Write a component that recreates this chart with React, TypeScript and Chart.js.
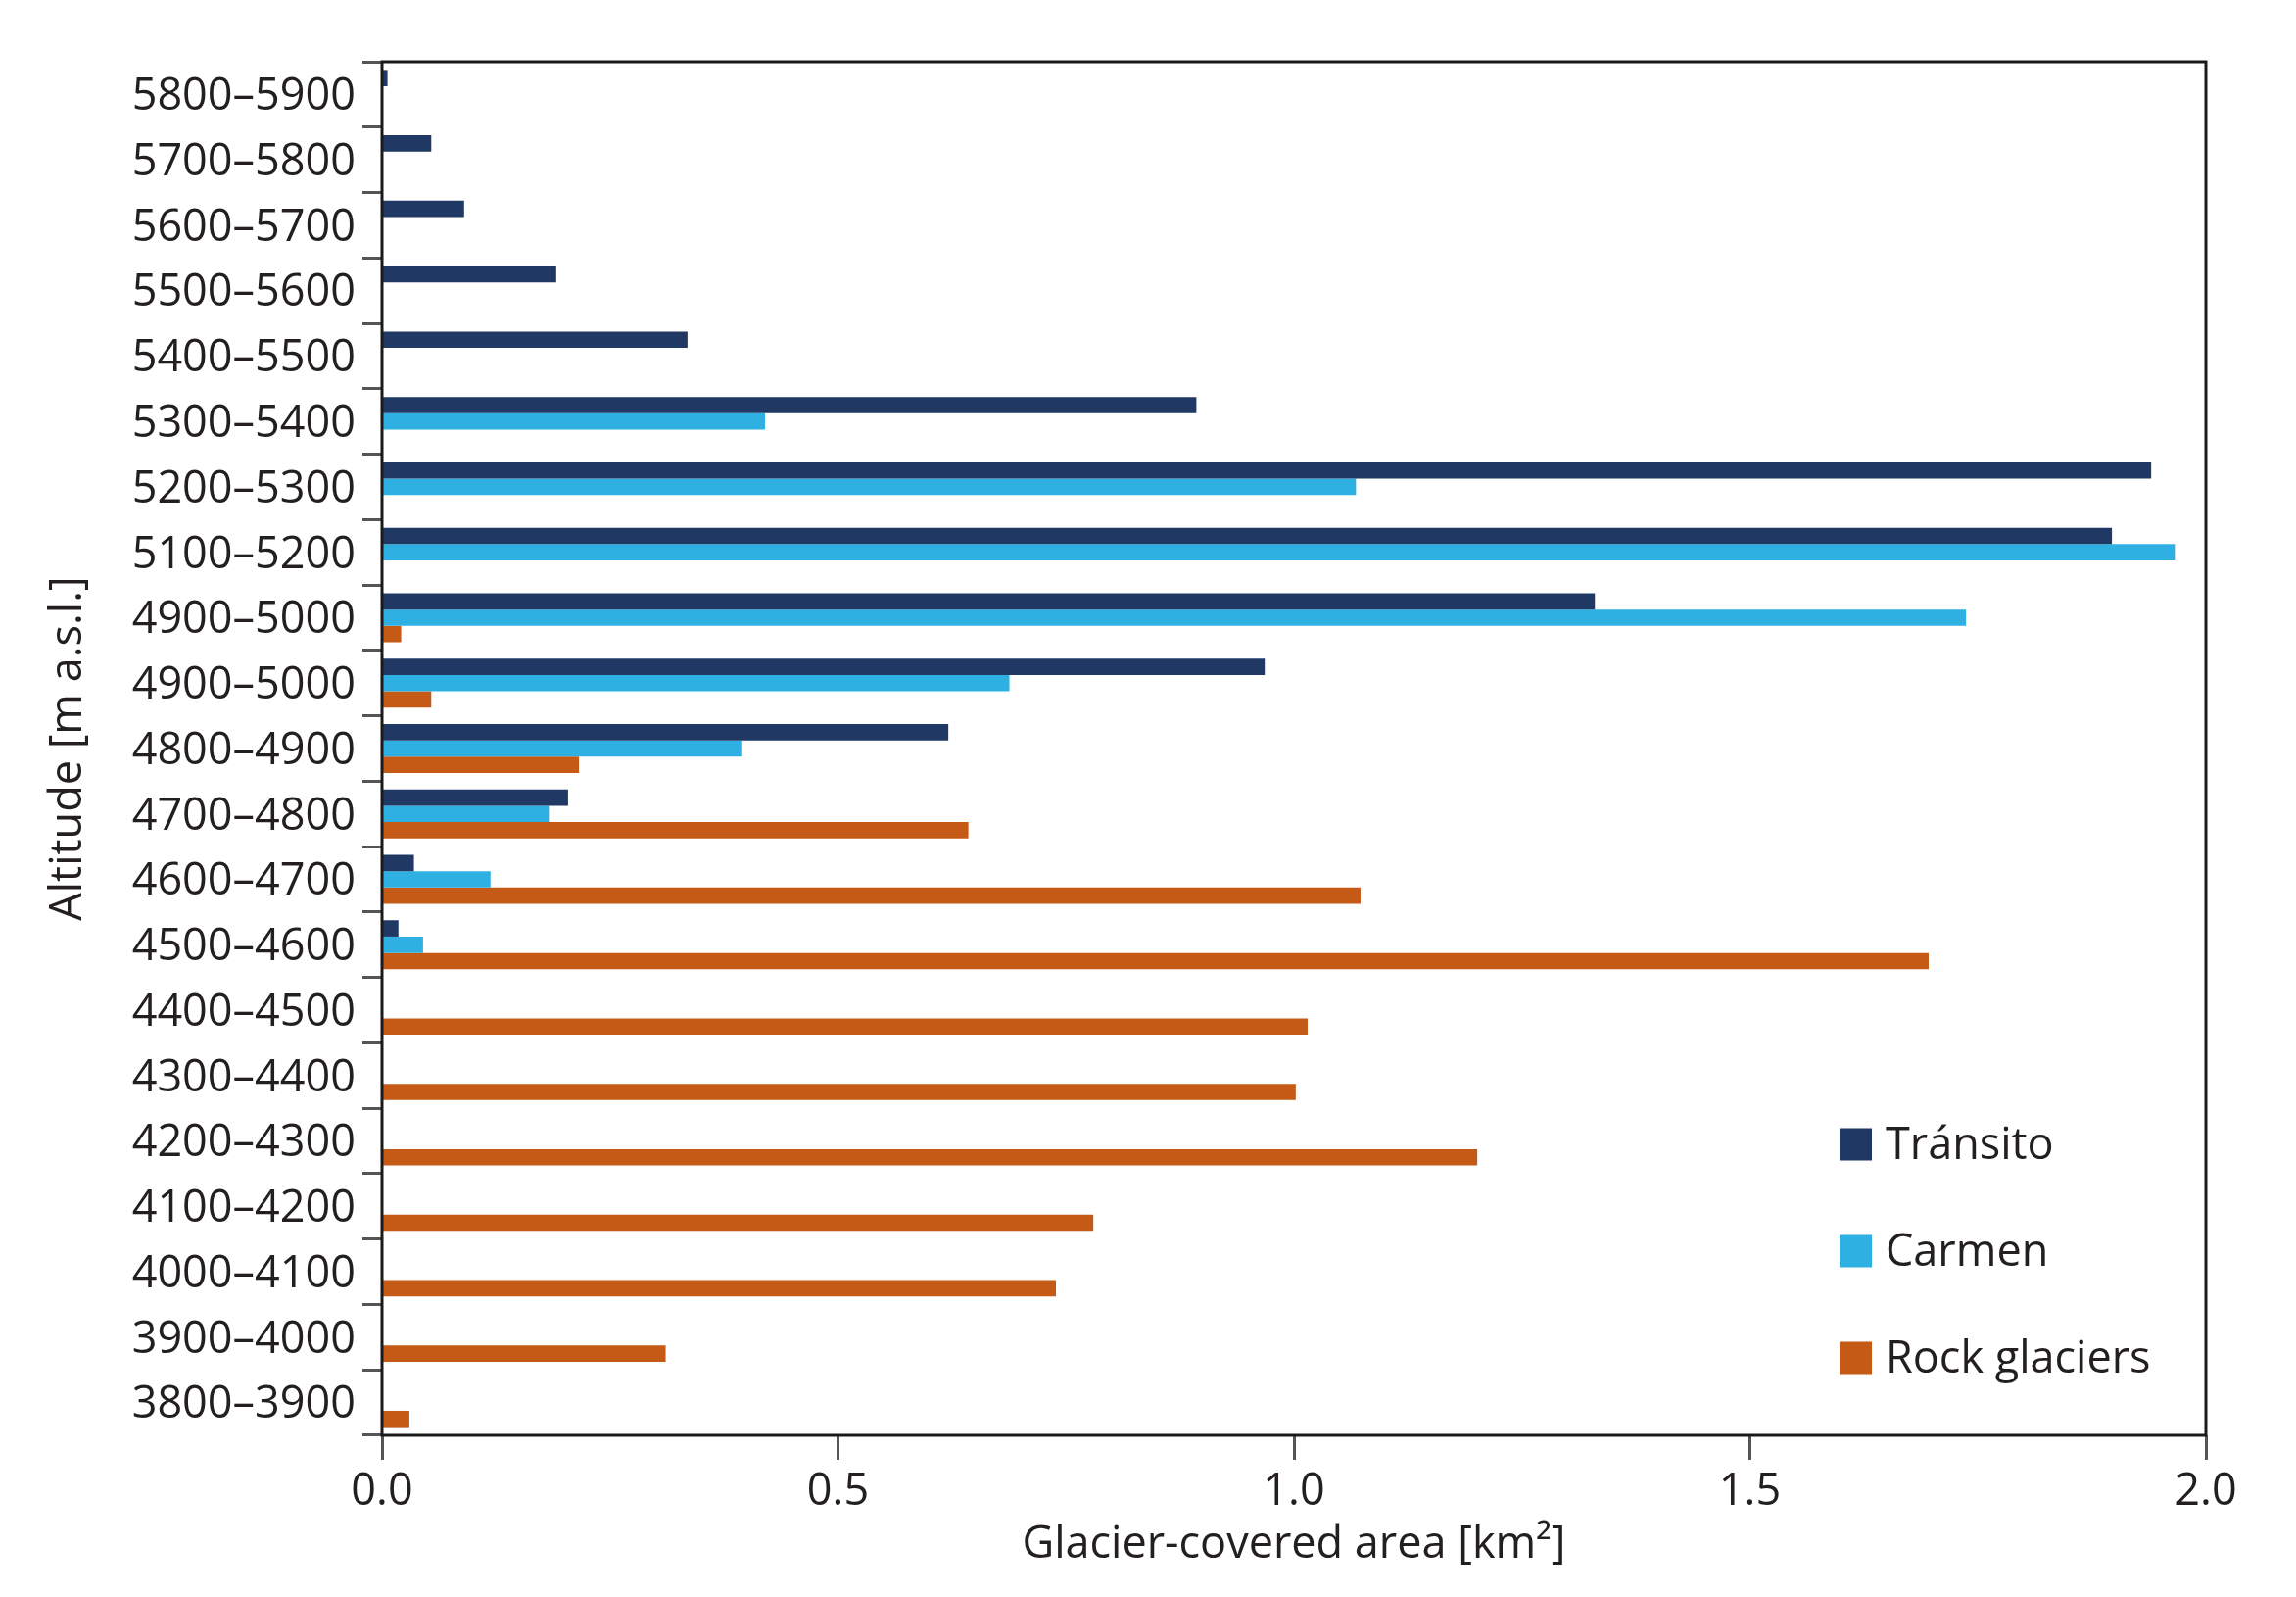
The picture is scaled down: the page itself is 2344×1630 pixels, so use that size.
import React, { useEffect, useRef } from "react";
import { Chart, registerables } from "chart.js";

Chart.register(...registerables);

const categories = [
  "5800–5900",
  "5700–5800",
  "5600–5700",
  "5500–5600",
  "5400–5500",
  "5300–5400",
  "5200–5300",
  "5100–5200",
  "4900–5000",
  "4900–5000",
  "4800–4900",
  "4700–4800",
  "4600–4700",
  "4500–4600",
  "4400–4500",
  "4300–4400",
  "4200–4300",
  "4100–4200",
  "4000–4100",
  "3900–4000",
  "3800–3900",
];

const transito = [
  0.006, 0.054, 0.09, 0.191, 0.335, 0.893, 1.94, 1.897, 1.33, 0.968, 0.621,
  0.204, 0.035, 0.018, null, null, null, null, null, null, null,
];
const carmen = [
  null, null, null, null, null, 0.42, 1.068, 1.966, 1.737, 0.688, 0.395,
  0.183, 0.119, 0.045, null, null, null, null, null, null, null,
];
const rockGlaciers = [
  null, null, null, null, null, null, null, null, 0.021, 0.054, 0.216, 0.643,
  1.073, 1.696, 1.015, 1.002, 1.201, 0.78, 0.739, 0.311, 0.03,
];

const seriesNames = ["Tránsito", "Carmen", "Rock glaciers"];
const seriesColors = ["#1f3864", "#2eb1e2", "#c55a17"];

const xMin = 0;
const xMax = 2;
const xStep = 0.5;

const xTitle = "Glacier-covered area [km²]";
const yTitle = "Altitude [m a.s.l.]";

const FONT = '"Open Sans", "Noto Sans", sans-serif';
const TEXT = "#231f20";

const framePlugin = {
  id: "frame",
  afterDatasetsDraw(chart: any) {
    const { ctx, chartArea } = chart;
    ctx.save();
    ctx.strokeStyle = "#1a1a1a";
    ctx.lineWidth = 3;
    ctx.strokeRect(
      chartArea.left,
      chartArea.top,
      chartArea.right - chartArea.left,
      chartArea.bottom - chartArea.top
    );
    ctx.restore();
  },
};

const legendPlugin = {
  id: "insideLegend",
  afterDraw(chart: any) {
    const { ctx } = chart;
    const datasets = chart.data.datasets;
    const boxX = 1878;
    const box = 33;
    const textX = 1925;
    const centers = [1168, 1277, 1386];
    ctx.save();
    ctx.font = `45px ${FONT}`;
    ctx.textBaseline = "middle";
    ctx.textAlign = "left";
    datasets.forEach((ds: any, i: number) => {
      const cy = centers[i];
      ctx.fillStyle = ds.backgroundColor;
      ctx.fillRect(boxX, cy - box / 2, box, box);
      ctx.fillStyle = TEXT;
      ctx.fillText(ds.label, textX, cy + 2);
    });
    ctx.restore();
  },
};

export default function App() {
  const canvasRef = useRef<HTMLCanvasElement | null>(null);

  useEffect(() => {
    document.body.style.margin = "0";
    let chart: Chart | null = null;
    let cancelled = false;

    const build = () => {
      if (cancelled || !canvasRef.current) return;
      chart = new Chart(canvasRef.current, {
        type: "bar",
        data: {
          labels: categories,
          datasets: [
            { label: seriesNames[0], data: transito, backgroundColor: seriesColors[0] },
            { label: seriesNames[1], data: carmen, backgroundColor: seriesColors[1] },
            { label: seriesNames[2], data: rockGlaciers, backgroundColor: seriesColors[2] },
          ] as any,
        },
        options: {
          indexAxis: "y",
          responsive: false,
          animation: false,
          devicePixelRatio: 1,
          layout: { padding: { top: 63, right: 92, left: 0, bottom: 0 } },
          datasets: {
            bar: {
              categoryPercentage: 0.75,
              barPercentage: 1,
              borderWidth: 0,
              skipNull: false,
            },
          } as any,
          plugins: {
            legend: { display: false },
            tooltip: { enabled: false },
          },
          scales: {
            x: {
              type: "linear",
              min: xMin,
              max: xMax,
              afterFit: (scale: any) => {
                scale.height = 165;
              },
              border: { display: false },
              grid: {
                display: true,
                drawOnChartArea: false,
                drawTicks: true,
                tickLength: 25,
                tickWidth: 3,
                tickColor: "#555555",
              },
              ticks: {
                stepSize: xStep,
                padding: 6,
                color: TEXT,
                font: { family: FONT, size: 45 },
                callback: (v: any) => Number(v).toFixed(1),
              },
              title: {
                display: true,
                text: xTitle,
                color: TEXT,
                font: { family: FONT, size: 45 },
                padding: { top: 0, bottom: 26 },
              },
            },
            y: {
              type: "category",
              afterFit: (scale: any) => {
                scale.width = 390;
              },
              border: { display: false },
              grid: {
                display: true,
                offset: true,
                drawOnChartArea: false,
                drawTicks: true,
                tickLength: 20,
                tickWidth: 3,
                tickColor: "#555555",
              },
              ticks: {
                autoSkip: false,
                padding: 7,
                labelOffset: 3,
                color: TEXT,
                font: { family: FONT, size: 45 },
              },
              title: {
                display: true,
                text: yTitle,
                color: TEXT,
                font: { family: FONT, size: 45 },
                padding: { top: 43, bottom: 0 },
              },
            },
          },
        },
        plugins: [framePlugin, legendPlugin],
      });
    };

    const fontsReady = (document as any).fonts
      ? Promise.all([
          (document as any).fonts.load(`45px "Open Sans"`, "Tránsito 0123456789–"),
        ]).catch(() => null)
      : Promise.resolve(null);
    fontsReady.then(build);

    return () => {
      cancelled = true;
      if (chart) chart.destroy();
    };
  }, []);

  return (
    <div style={{ width: 2344, height: 1630, background: "#ffffff" }}>
      <canvas
        ref={canvasRef}
        width={2344}
        height={1630}
        style={{ display: "block", width: 2344, height: 1630 }}
      />
    </div>
  );
}
